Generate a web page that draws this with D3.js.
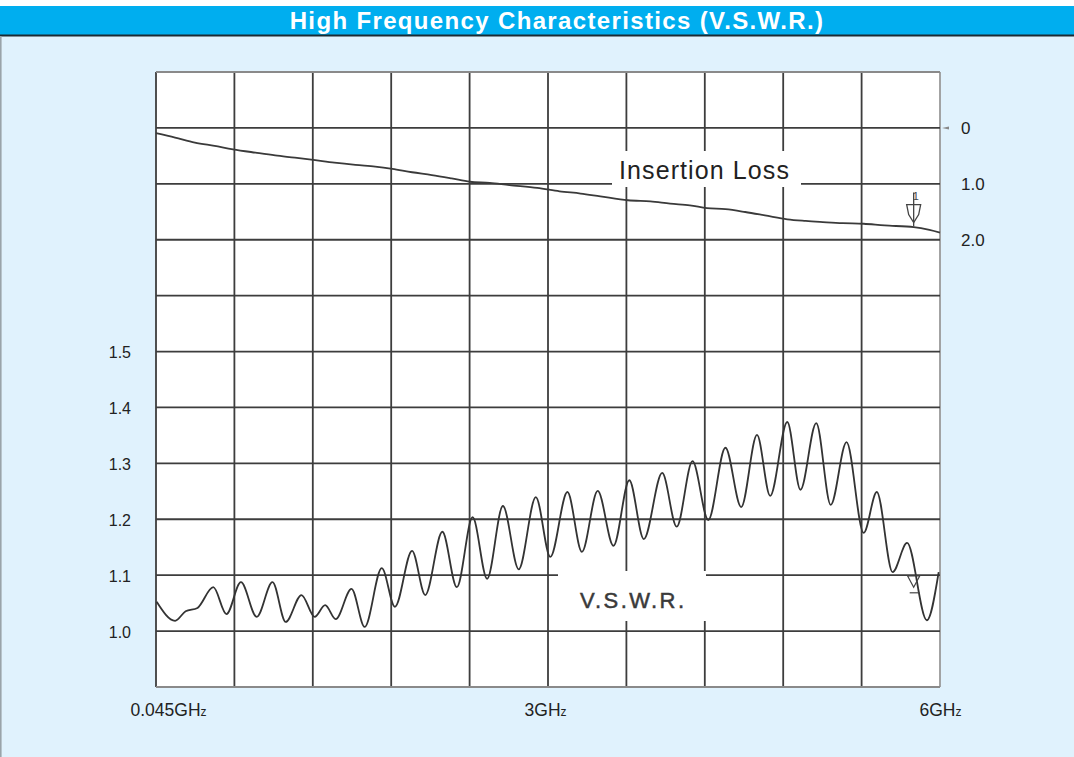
<!DOCTYPE html>
<html>
<head>
<meta charset="utf-8">
<script src="https://cdn.jsdelivr.net/npm/d3@7"></script>
<style>
  body { margin: 0; background: #fff; }
  text { font-family: "Liberation Sans", Arial, sans-serif; }
</style>
</head>
<body>
<svg id="chart" width="1074" height="757"></svg>
<script>
const titleText = "High Frequency Characteristics (V.S.W.R.)";

// V.S.W.R. trace, peaks and troughs (GHz, ratio)
const vswrFreq = [0.05, 0.19, 0.27, 0.36, 0.48, 0.58, 0.69, 0.81, 0.93, 1.03, 1.15, 1.25, 1.33, 1.41,
  1.53, 1.63, 1.76, 1.86, 1.99, 2.09, 2.22, 2.33, 2.45, 2.56, 2.68, 2.8, 2.93, 3.04,
  3.17, 3.28, 3.4, 3.52, 3.64, 3.75, 3.89, 4.0, 4.12, 4.24, 4.37, 4.49, 4.61, 4.71,
  4.84, 4.94, 5.06, 5.17, 5.29, 5.42, 5.52, 5.64, 5.75, 5.9, 5.99];
const vswrValue = [1.054, 1.02, 1.037, 1.043, 1.08, 1.032, 1.089, 1.027, 1.089, 1.018, 1.066, 1.027, 1.048, 1.023,
  1.077, 1.009, 1.114, 1.045, 1.145, 1.066, 1.179, 1.08, 1.205, 1.095, 1.225, 1.112, 1.241, 1.134,
  1.25, 1.143, 1.252, 1.154, 1.271, 1.166, 1.284, 1.188, 1.305, 1.2, 1.329, 1.223, 1.352, 1.243,
  1.375, 1.254, 1.373, 1.227, 1.339, 1.177, 1.25, 1.107, 1.159, 1.021, 1.107];

// Insertion loss trace (GHz, dB)
const lossFreq = [0.045, 0.19, 0.34, 0.49, 0.63, 0.8, 0.95, 1.1, 1.24, 1.4, 1.56, 1.71, 1.84, 1.99,
  2.14, 2.29, 2.43, 2.58, 2.73, 2.94, 3.11, 3.27, 3.42, 3.63, 3.8, 3.95, 4.1, 4.23,
  4.37, 4.52, 4.67, 4.84, 4.98, 5.11, 5.26, 5.42, 5.58, 5.8, 5.92, 6.0];
const lossValue = [0.09, 0.17, 0.26, 0.32, 0.38, 0.44, 0.49, 0.53, 0.57, 0.62, 0.66, 0.69, 0.73, 0.79,
  0.84, 0.9, 0.96, 0.98, 1.02, 1.07, 1.13, 1.17, 1.22, 1.29, 1.31, 1.35, 1.38, 1.43,
  1.45, 1.5, 1.56, 1.63, 1.66, 1.68, 1.7, 1.71, 1.74, 1.77, 1.82, 1.87];

const vswrTicks = [1.0, 1.1, 1.2, 1.3, 1.4, 1.5];
const lossTicks = [0, 1.0, 2.0];
const freqTicks = [0.045, 3, 6];
const freqLabels = ["0.045", "3", "6"];

const svg = d3.select("#chart");
const plotL = 156, plotR = 940, plotT = 72, plotB = 687;

// page frame
svg.append("rect").attr("x", 0).attr("y", 6).attr("width", 1074).attr("height", 751).attr("fill", "#e0f2fd");
svg.append("rect").attr("x", 0).attr("y", 6).attr("width", 1074).attr("height", 29).attr("fill", "#00aeef");
svg.append("line").attr("x1", 0).attr("x2", 1074).attr("y1", 35.5).attr("y2", 35.5)
  .attr("stroke", "#1b2a33").attr("stroke-width", 2);
svg.append("line").attr("x1", 0.8).attr("x2", 0.8).attr("y1", 36).attr("y2", 757)
  .attr("stroke", "#9aa4aa").attr("stroke-width", 1.6);
svg.append("text").attr("x", 557).attr("y", 29).attr("text-anchor", "middle")
  .attr("fill", "#fff").attr("font-weight", "bold").attr("font-size", 24).attr("letter-spacing", 1.35)
  .text(titleText);

const x = d3.scaleLinear().domain([0.045, 6]).range([plotL, plotR]);
const yV = d3.scaleLinear().domain([1.0, 1.5]).range([632, 352]);
const yL = d3.scaleLinear().domain([0, 2]).range([128, 240]);
const gx = d3.scaleLinear().domain([0, 10]).range([plotL, plotR]);
const gy = d3.scaleLinear().domain([0, 11]).range([plotT, plotB]);

svg.append("rect").attr("x", plotL).attr("y", plotT).attr("width", plotR - plotL).attr("height", plotB - plotT)
  .attr("fill", "#fff");

const grid = svg.append("g").attr("stroke", "#3d3d3d").attr("stroke-width", 1.8);
grid.selectAll("line.v").data(d3.range(11)).join("line").attr("class", "v")
  .attr("x1", gx).attr("x2", gx).attr("y1", plotT).attr("y2", plotB)
  .attr("stroke", (d) => (d == 10 ? "#9a9a9a" : null));
grid.selectAll("line.h").data(d3.range(12)).join("line").attr("class", "h")
  .attr("y1", gy).attr("y2", gy).attr("x1", plotL).attr("x2", plotR)
  .attr("stroke", (d) => (d == 0 || d == 11 ? "#8a8a8a" : null));

// label boxes cut through the grid
svg.append("rect").attr("x", 612).attr("y", 151).attr("width", 189).attr("height", 36).attr("fill", "#fff");
svg.append("rect").attr("x", 558).attr("y", 571).attr("width", 148).attr("height", 50).attr("fill", "#fff");

const lossLine = d3.line().x((d, i) => x(lossFreq[i])).y((d) => yL(d)).curve(d3.curveCatmullRom);
svg.append("path").datum(lossValue).attr("d", lossLine)
  .attr("fill", "none").attr("stroke", "#3a3a3a").attr("stroke-width", 1.8);

const vswrLine = d3.line().x((d, i) => x(vswrFreq[i])).y((d) => yV(d)).curve(d3.curveMonotoneX);
svg.append("path").datum(vswrValue).attr("d", vswrLine)
  .attr("fill", "none").attr("stroke", "#333").attr("stroke-width", 1.8);

// markers
function marker(cx, cy, lab) {
  const g = svg.append("g").attr("fill", "none").attr("stroke", "#444").attr("stroke-width", 1.3);
  g.append("line").attr("x1", cx).attr("x2", cx).attr("y1", cy - 34).attr("y2", cy);
  g.append("path").attr("d", `M${cx - 7},${cy - 22} L${cx + 7},${cy - 22} L${cx + 5},${cy - 12} L${cx},${cy - 4} L${cx - 5},${cy - 12} Z`);
  svg.append("text").attr("x", cx - 1).attr("y", cy - 27).attr("font-size", 11).attr("fill", "#444").text(lab);
}
marker(x(5.8), yL(1.76), "1");
const m2 = svg.append("g").attr("fill", "none").attr("stroke", "#444").attr("stroke-width", 1.2);
m2.append("path").attr("d", `M${x(5.8) - 6},${yV(1.1)} L${x(5.8) + 6},${yV(1.1)} L${x(5.8)},${yV(1.08)} Z`);
m2.append("line").attr("x1", x(5.8) - 4).attr("x2", x(5.8) + 6).attr("y1", yV(1.07)).attr("y2", yV(1.07));

// axes
const axisStyle = (size) => (g) => {
  g.select(".domain").remove();
  g.selectAll("text").attr("font-size", size).attr("fill", "#222")
    .attr("font-family", '"Liberation Sans", Arial, sans-serif');
};
svg.append("g").attr("transform", `translate(${plotL},0)`)
  .call(d3.axisLeft(yV).tickValues(vswrTicks).tickSize(0).tickPadding(25).tickFormat(d3.format(".1f")))
  .call(axisStyle(16));
svg.append("g").attr("transform", `translate(${plotR},0)`)
  .call(d3.axisRight(yL).tickValues(lossTicks).tickSize(0).tickPadding(21)
    .tickFormat((d) => (d == 0 ? "0" : d3.format(".1f")(d))))
  .call(axisStyle(17));
svg.append("path").attr("d", `M${plotR + 2},${yL(0)} l7,-1.5 l0,3 Z`).attr("fill", "#888");

const xAxis = svg.append("g").attr("transform", `translate(0,${plotB})`)
  .call(d3.axisBottom(x).tickValues(freqTicks).tickSize(0).tickPadding(17))
  .call(axisStyle(17.5));
xAxis.selectAll(".tick text").each(function (d, i) {
  const t = d3.select(this).text(null);
  if (i == 0) t.attr("text-anchor", "start").attr("dx", -26);
  t.append("tspan").text(freqLabels[i] + "GH");
  t.append("tspan").attr("font-size", 12).text("z");
});

svg.append("text").attr("x", 619).attr("y", 179).attr("font-size", 25).attr("letter-spacing", 1.1)
  .attr("fill", "#222").text("Insertion Loss");
svg.append("text").attr("x", 580).attr("y", 608).attr("font-size", 22).attr("letter-spacing", 2.4)
  .attr("fill", "#3a3a3a").attr("stroke", "#3a3a3a").attr("stroke-width", 0.5).text("V.S.W.R.");
</script>
</body>
</html>
